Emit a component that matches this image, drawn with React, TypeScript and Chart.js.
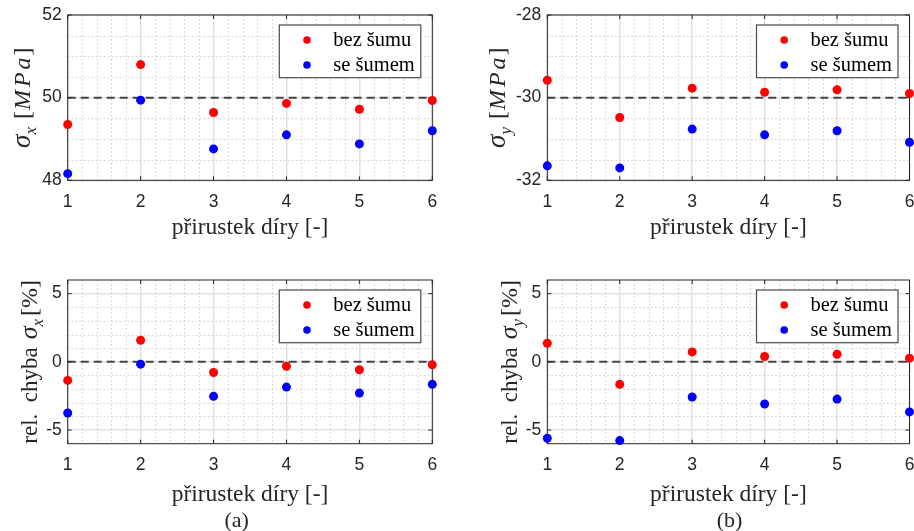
import React, { useEffect, useRef } from 'react';
import { Chart, registerables } from 'chart.js';

Chart.register(...registerables);

// ---------- data ----------
const holeIncrements = [1, 2, 3, 4, 5, 6];

const sigmaXNoNoise = [49.35, 50.8, 49.64, 49.86, 49.72, 49.93];
const sigmaXNoise = [48.16, 49.94, 48.76, 49.1, 48.88, 49.2];
const sigmaYNoNoise = [-29.58, -30.48, -29.77, -29.87, -29.81, -29.9];
const sigmaYNoise = [-31.65, -31.7, -30.76, -30.9, -30.8, -31.08];
const relXNoNoise = [-1.36, 1.58, -0.78, -0.32, -0.58, -0.22];
const relXNoise = [-3.75, -0.17, -2.53, -1.85, -2.29, -1.65];
const relYNoNoise = [1.36, -1.65, 0.73, 0.39, 0.56, 0.27];
const relYNoise = [-5.6, -5.77, -2.58, -3.09, -2.73, -3.67];

const seriesNames = ['bez šumu', 'se šumem'];
const seriesColors = ['#ff0000', '#0000ff'];

const sigmaXTicks = [48, 50, 52];
const sigmaYTicks = [-32, -30, -28];
const relTicks = [-5, 0, 5];

const sigmaXRef = 50;
const sigmaYRef = -30;
const relRef = 0;

const xAxisTitle = 'přirustek díry [-]';
const captions = ['(a)', '(b)'];

// ---------- text pieces for the y titles ----------
type Part = { t: string; italic?: boolean; size: number; sub?: boolean; gap?: number };

const titleSigma = (sub: string): Part[] => [
  { t: 'σ', italic: true, size: 27 },
  { t: sub, italic: true, size: 17, sub: true },
  { t: '[', size: 24, gap: 8 },
  { t: 'M', italic: true, size: 24, gap: 1 },
  { t: 'P', italic: true, size: 24, gap: 3 },
  { t: 'a', italic: true, size: 24, gap: 3 },
  { t: ']', size: 24, gap: 2 },
];
const titleRel = (sub: string): Part[] => [
  { t: 'rel.  chyba', size: 23 },
  { t: 'σ', italic: true, size: 26, gap: 8 },
  { t: sub, italic: true, size: 17, sub: true },
  { t: '[%]', size: 24, gap: 3 },
];

const SERIF = '"Liberation Serif", "Times New Roman", serif';
const SANS = '"Liberation Sans", Arial, sans-serif';
const AXIS_COLOR = '#262626';
const GRID_COLOR = '#e1e1e1';
const MINOR_COLOR = '#cfcfcf';

type PanelCfg = {
  key: string;
  left: number; top: number; w: number; h: number;
  area: { l: number; t: number; r: number; b: number };
  yMin: number; yMax: number; yTicks: number[]; yMinorStep: number;
  ref: number; red: number[]; blue: number[];
  yTitle: Part[]; yTitleX: number; xTitlePad: number;
};

const panels: PanelCfg[] = [
  {
    key: 'a', left: 0, top: 0, w: 457, h: 262,
    area: { l: 67.7, t: 15, r: 432.3, b: 180.3 },
    yMin: 48, yMax: 52, yTicks: sigmaXTicks, yMinorStep: 0.5,
    ref: sigmaXRef, red: sigmaXNoNoise, blue: sigmaXNoise,
    yTitle: titleSigma('x'), yTitleX: 22, xTitlePad: 20,
  },
  {
    key: 'b', left: 457, top: 0, w: 457, h: 262,
    area: { l: 90.3, t: 15, r: 453.7, b: 180.3 },
    yMin: -32, yMax: -28, yTicks: sigmaYTicks, yMinorStep: 0.5,
    ref: sigmaYRef, red: sigmaYNoNoise, blue: sigmaYNoise,
    yTitle: titleSigma('y'), yTitleX: 40, xTitlePad: 20,
  },
  {
    key: 'c', left: 0, top: 262, w: 457, h: 269,
    area: { l: 67.7, t: 18, r: 432.3, b: 181.7 },
    yMin: -6, yMax: 6, yTicks: relTicks, yMinorStep: 1,
    ref: relRef, red: relXNoNoise, blue: relXNoise,
    yTitle: titleRel('x'), yTitleX: 29, xTitlePad: 22,
  },
  {
    key: 'd', left: 457, top: 262, w: 457, h: 269,
    area: { l: 90.3, t: 18, r: 453.7, b: 181.7 },
    yMin: -6, yMax: 6, yTicks: relTicks, yMinorStep: 1,
    ref: relRef, red: relYNoNoise, blue: relYNoise,
    yTitle: titleRel('y'), yTitleX: 52, xTitlePad: 22,
  },
];

function drawRich(ctx: CanvasRenderingContext2D, parts: Part[], cx: number, cy: number) {
  ctx.save();
  ctx.translate(cx, cy);
  ctx.rotate(-Math.PI / 2);
  ctx.fillStyle = AXIS_COLOR;
  ctx.textBaseline = 'alphabetic';
  ctx.textAlign = 'left';
  const mainSize = Math.max(...parts.map((p) => p.size));
  const fontOf = (p: Part) => `${p.italic ? 'italic ' : ''}${p.size}px ${SERIF}`;
  let total = 0;
  const widths = parts.map((p) => {
    ctx.font = fontOf(p);
    const w = ctx.measureText(p.t).width;
    total += (p.gap || 0) + w;
    return w;
  });
  let u = -total / 2;
  const base = mainSize * 0.3;
  parts.forEach((p, i) => {
    u += p.gap || 0;
    ctx.font = fontOf(p);
    ctx.fillText(p.t, u, base + (p.sub ? mainSize * 0.22 : 0));
    u += widths[i];
  });
  ctx.restore();
}

function makeDecor(cfg: PanelCfg) {
  return {
    id: 'decor_' + cfg.key,
    beforeDatasetsDraw(chart: any) {
      const { ctx, chartArea: a, scales } = chart;
      const xs = scales.x;
      const ys = scales.y;
      ctx.save();
      // minor grid
      ctx.strokeStyle = MINOR_COLOR;
      ctx.lineWidth = 1;
      ctx.setLineDash([1.5, 2.5]);
      const x0 = holeIncrements[0];
      const x1 = holeIncrements[holeIncrements.length - 1];
      const nx = Math.round((x1 - x0) / 0.2);
      for (let i = 1; i < nx; i++) {
        if (i % 5 === 0) continue;
        const px = Math.round(xs.getPixelForValue(x0 + i * 0.2)) + 0.5;
        ctx.beginPath();
        ctx.moveTo(px, a.top);
        ctx.lineTo(px, a.bottom);
        ctx.stroke();
      }
      const ny = Math.round((cfg.yMax - cfg.yMin) / cfg.yMinorStep);
      for (let i = 1; i < ny; i++) {
        const v = cfg.yMin + i * cfg.yMinorStep;
        if (cfg.yTicks.some((t) => Math.abs(t - v) < 1e-6)) continue;
        const py = Math.round(ys.getPixelForValue(v)) + 0.5;
        ctx.beginPath();
        ctx.moveTo(a.left, py);
        ctx.lineTo(a.right, py);
        ctx.stroke();
      }
      ctx.setLineDash([]);
      // axes box
      ctx.strokeStyle = AXIS_COLOR;
      ctx.lineWidth = 1;
      ctx.strokeRect(a.left, a.top, a.right - a.left, a.bottom - a.top);
      // inward ticks
      const tl = 4;
      ctx.beginPath();
      holeIncrements.forEach((v) => {
        const px = xs.getPixelForValue(v);
        ctx.moveTo(px, a.bottom);
        ctx.lineTo(px, a.bottom - tl);
        ctx.moveTo(px, a.top);
        ctx.lineTo(px, a.top + tl);
      });
      cfg.yTicks.forEach((v) => {
        const py = ys.getPixelForValue(v);
        ctx.moveTo(a.left, py);
        ctx.lineTo(a.left + tl, py);
        ctx.moveTo(a.right, py);
        ctx.lineTo(a.right - tl, py);
      });
      ctx.stroke();
      ctx.restore();
    },
    afterDraw(chart: any) {
      const { ctx, chartArea: a } = chart;
      // legend box
      const bw = 141.5;
      const bh = 52.7;
      const bx = a.right - 11.5 - bw;
      const by = a.top + 10;
      ctx.save();
      ctx.fillStyle = '#ffffff';
      ctx.fillRect(bx, by, bw, bh);
      ctx.strokeStyle = '#4a4a4a';
      ctx.lineWidth = 1.2;
      ctx.strokeRect(bx, by, bw, bh);
      chart.data.datasets.forEach((ds: any, i: number) => {
        if (i > 1) return;
        const ry = by + 15 + i * 25;
        ctx.fillStyle = ds.backgroundColor;
        ctx.beginPath();
        ctx.arc(bx + 27.7, ry, 3.8, 0, Math.PI * 2);
        ctx.fill();
        ctx.fillStyle = '#000';
        ctx.font = `20.5px ${SERIF}`;
        ctx.textBaseline = 'middle';
        ctx.textAlign = 'left';
        ctx.fillText(ds.label, bx + 54, ry + 1);
      });
      ctx.restore();
      // y title
      drawRich(ctx, cfg.yTitle, cfg.yTitleX, (a.top + a.bottom) / 2);
    },
  };
}

function Panel({ cfg }: { cfg: PanelCfg }) {
  const ref = useRef<HTMLCanvasElement>(null);
  useEffect(() => {
    const canvas = ref.current!;
    const xMin = holeIncrements[0];
    const xMax = holeIncrements[holeIncrements.length - 1];
    const chart = new Chart(canvas, {
      type: 'scatter',
      data: {
        datasets: [
          {
            label: seriesNames[0],
            data: holeIncrements.map((x, i) => ({ x, y: cfg.red[i] })),
            backgroundColor: seriesColors[0],
            borderColor: seriesColors[0],
            borderWidth: 0,
            pointRadius: 4.5,
            clip: false as any,
          },
          {
            label: seriesNames[1],
            data: holeIncrements.map((x, i) => ({ x, y: cfg.blue[i] })),
            backgroundColor: seriesColors[1],
            borderColor: seriesColors[1],
            borderWidth: 0,
            pointRadius: 4.5,
            clip: false as any,
          },
          {
            type: 'line' as any,
            label: 'ref',
            data: [
              { x: xMin, y: cfg.ref },
              { x: xMax, y: cfg.ref },
            ],
            borderColor: 'rgba(40,40,40,0.85)',
            borderWidth: 2,
            borderDash: [8, 5],
            pointRadius: 0,
            showLine: true,
            fill: false,
          } as any,
        ],
      },
      options: {
        responsive: false,
        animation: false,
        devicePixelRatio: 1,
        events: [],
        layout: {
          padding: { left: 0, top: cfg.area.t, right: cfg.w - cfg.area.r, bottom: 0 },
        },
        plugins: {
          legend: { display: false },
          tooltip: { enabled: false },
          title: { display: false },
        },
        scales: {
          x: {
            type: 'linear',
            min: xMin,
            max: xMax,
            border: { display: false },
            grid: { color: GRID_COLOR, lineWidth: 1.5, drawTicks: false },
            ticks: {
              stepSize: 1,
              padding: 11,
              color: AXIS_COLOR,
              font: { family: SANS, size: 17.5 },
              maxRotation: 0,
            },
            title: {
              display: true,
              text: xAxisTitle,
              color: AXIS_COLOR,
              font: { family: SERIF, size: 23.5 },
              padding: { top: 0, bottom: cfg.xTitlePad },
            },
            afterFit: (s: any) => {
              s.height = cfg.h - cfg.area.b;
              s.paddingLeft = 0;
              s.paddingRight = 0;
            },
          },
          y: {
            type: 'linear',
            min: cfg.yMin,
            max: cfg.yMax,
            border: { display: false },
            grid: { color: GRID_COLOR, lineWidth: 1.5, drawTicks: false },
            ticks: {
              padding: 6,
              color: AXIS_COLOR,
              font: { family: SANS, size: 17.5 },
            },
            afterBuildTicks: (s: any) => {
              s.ticks = cfg.yTicks.map((v) => ({ value: v }));
            },
            afterFit: (s: any) => {
              s.width = cfg.area.l;
              s.paddingTop = 0;
              s.paddingBottom = 0;
            },
          },
        },
      },
      plugins: [makeDecor(cfg)],
    });
    return () => chart.destroy();
  }, [cfg]);
  return (
    <canvas
      ref={ref}
      width={cfg.w}
      height={cfg.h}
      style={{ position: 'absolute', left: cfg.left, top: cfg.top, width: cfg.w, height: cfg.h }}
    />
  );
}

export default function App() {
  return (
    <div
      style={{
        position: 'absolute',
        left: 0,
        top: 0,
        width: 914,
        height: 531,
        background: '#ffffff',
        overflow: 'hidden',
      }}
    >
      {panels.map((p) => (
        <Panel key={p.key} cfg={p} />
      ))}
      <div style={{ position: 'absolute', left: 236.7, top: 520, transform: 'translate(-50%, -50%)', font: `22px ${SERIF}`, color: AXIS_COLOR, lineHeight: 1 }}>
        {captions[0]}
      </div>
      <div style={{ position: 'absolute', left: 729.5, top: 520, transform: 'translate(-50%, -50%)', font: `22px ${SERIF}`, color: AXIS_COLOR, lineHeight: 1 }}>
        {captions[1]}
      </div>
    </div>
  );
}
